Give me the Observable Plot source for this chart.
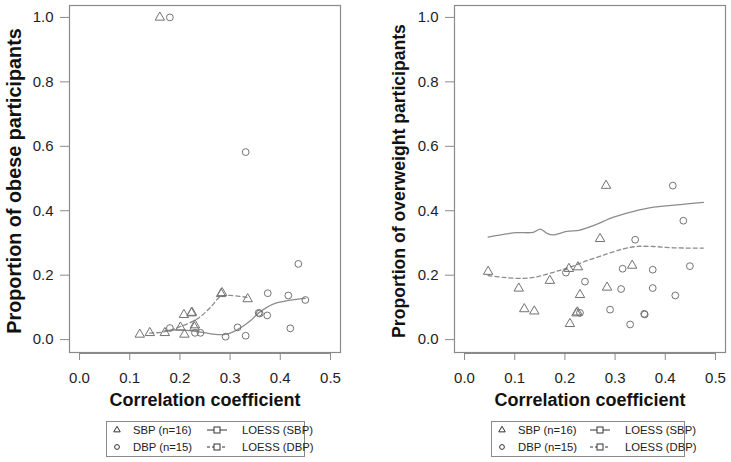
<!DOCTYPE html>
<html>
<head>
<meta charset="utf-8">
<script src="https://cdn.jsdelivr.net/npm/d3@7"></script>
<script src="https://cdn.jsdelivr.net/npm/@observablehq/plot@0.6"></script>
<style>
  body { margin: 0; background: #fff; font-family: "Liberation Sans", Arial, sans-serif; }
  #wrap { position: relative; width: 731px; height: 462px; overflow: hidden; }
  .panel { position: absolute; top: 0; }
  .legend { position: absolute; top: 421px; height: 36px; border: 1px solid #8a8a8a; box-sizing: border-box; font-size: 11.3px; color: #222; }
  .legend .item { position: absolute; white-space: nowrap; line-height: 12px; }
  .legend svg { position: absolute; overflow: visible; }
</style>
</head>
<body>
<div id="wrap">
  <div id="left" class="panel" style="left:0"></div>
  <div id="right" class="panel" style="left:385px"></div>
  <div id="legL" class="legend" style="left:106px; width:199px"></div>
  <div id="legR" class="legend" style="left:491px; width:194px"></div>
</div>
<script>
// ---------- data ----------
const xTicks = [0, 0.1, 0.2, 0.3, 0.4, 0.5];
const yTicks = [0, 0.2, 0.4, 0.6, 0.8, 1.0];
const xDomain = [-0.02, 0.52];
const yDomain = [-0.04, 1.037];

const xTitle = "Correlation coefficient";
const yTitleObese = "Proportion of obese participants";
const yTitleOver = "Proportion of overweight participants";
const legendLabels = ["SBP (n=16)", "DBP (n=15)", "LOESS (SBP)", "LOESS (DBP)"];

// Obese panel
const obeseSbpX = [0.16, 0.12, 0.14, 0.17, 0.201, 0.208, 0.223, 0.224, 0.209, 0.229, 0.23, 0.282, 0.284, 0.335];
const obeseSbpY = [1.0, 0.016, 0.021, 0.021, 0.038, 0.077, 0.082, 0.084, 0.016, 0.038, 0.045, 0.142, 0.145, 0.126];
const obeseDbpX = [0.18, 0.331, 0.18, 0.23, 0.241, 0.291, 0.315, 0.331, 0.357, 0.359, 0.375, 0.374, 0.416, 0.436, 0.42, 0.45];
const obeseDbpY = [1.0, 0.582, 0.036, 0.021, 0.021, 0.009, 0.038, 0.012, 0.083, 0.081, 0.144, 0.075, 0.137, 0.235, 0.035, 0.123];
const obeseSolidX = [0.17, 0.2, 0.231, 0.261, 0.291, 0.314, 0.341, 0.357, 0.387, 0.414, 0.45];
const obeseSolidY = [0.028, 0.03, 0.026, 0.018, 0.016, 0.03, 0.059, 0.083, 0.111, 0.121, 0.128];
const obeseDashX = [0.14, 0.168, 0.2, 0.234, 0.261, 0.281, 0.3, 0.335];
const obeseDashY = [0.02, 0.024, 0.04, 0.064, 0.1, 0.134, 0.137, 0.131];

// Overweight panel
const overSbpX = [0.282, 0.047, 0.108, 0.119, 0.139, 0.17, 0.21, 0.208, 0.226, 0.223, 0.225, 0.23, 0.27, 0.284, 0.334];
const overSbpY = [0.478, 0.211, 0.159, 0.095, 0.088, 0.183, 0.049, 0.22, 0.225, 0.082, 0.085, 0.139, 0.313, 0.162, 0.23];
const overDbpX = [0.415, 0.202, 0.24, 0.23, 0.29, 0.315, 0.312, 0.34, 0.33, 0.358, 0.359, 0.375, 0.375, 0.42, 0.436, 0.449];
const overDbpY = [0.478, 0.208, 0.18, 0.083, 0.093, 0.22, 0.157, 0.31, 0.047, 0.08, 0.078, 0.217, 0.16, 0.137, 0.369, 0.228];
const overSolidX = [0.047, 0.084, 0.104, 0.137, 0.151, 0.164, 0.177, 0.204, 0.23, 0.257, 0.297, 0.337, 0.377, 0.43, 0.476];
const overSolidY = [0.318, 0.328, 0.332, 0.333, 0.343, 0.33, 0.325, 0.336, 0.34, 0.354, 0.38, 0.398, 0.411, 0.419, 0.426];
const overDashX = [0.047, 0.078, 0.118, 0.144, 0.177, 0.21, 0.244, 0.284, 0.317, 0.343, 0.377, 0.416, 0.476];
const overDashY = [0.199, 0.193, 0.19, 0.195, 0.209, 0.225, 0.245, 0.266, 0.282, 0.289, 0.289, 0.285, 0.284];

// ---------- styles ----------
const FRAME = "#8a8a8a";
const PT = "#727272";
const LINE = "#8c8c8c";
const TXT = "#1e1e1e";
const FONT = "'Liberation Sans', Arial, sans-serif";

const pairs = (xs, ys) => xs.map((x, i) => ({x, y: ys[i]}));

function panel({width, marginRight, yTitle, yTitleSize, sbpX, sbpY, dbpX, dbpY, solidX, solidY, dashX, dashY}) {
  return Plot.plot({
    width,
    height: 416,
    marginLeft: 69,
    marginRight,
    marginTop: 5,
    marginBottom: 64,
    style: {fontFamily: FONT, fontSize: "15px", background: "white", overflow: "visible"},
    x: {domain: xDomain},
    y: {domain: yDomain},
    marks: [
      Plot.frame({stroke: FRAME, strokeWidth: 1.2}),
      Plot.ruleY([yDomain[0]], {x1: xTicks[0], x2: xTicks[xTicks.length - 1], stroke: FRAME, strokeWidth: 1.2, dy: 1}),
      Plot.axisX({ticks: xTicks, tickFormat: d3.format(".1f"), tickSize: 8, tickPadding: 12, stroke: FRAME, fill: TXT, fontSize: 15, label: null}),
      Plot.axisY({ticks: yTicks, tickFormat: d3.format(".1f"), tickSize: 9, tickPadding: 7, stroke: FRAME, fill: TXT, fontSize: 15, label: null}),
      Plot.line(pairs(solidX, solidY), {x: "x", y: "y", stroke: LINE, strokeWidth: 1.3, curve: "catmull-rom"}),
      Plot.line(pairs(dashX, dashY), {x: "x", y: "y", stroke: LINE, strokeWidth: 1.3, strokeDasharray: "4,3", curve: "catmull-rom"}),
      Plot.dot(pairs(sbpX, sbpY), {x: "x", y: "y", symbol: "triangle", r: 3.5, stroke: PT, fill: "none", strokeWidth: 1}),
      Plot.dot(pairs(dbpX, dbpY), {x: "x", y: "y", symbol: "circle", r: 3.4, stroke: PT, fill: "none", strokeWidth: 1}),
      Plot.text([xTitle], {frameAnchor: "bottom", textAnchor: "middle", dy: 48, lineAnchor: "middle", fontWeight: "bold", fontSize: 18, fill: "#111"}),
      Plot.text([yTitle], {frameAnchor: "left", textAnchor: "middle", dx: -55, dy: 2, rotate: -90, lineAnchor: "middle", fontWeight: "bold", fontSize: yTitleSize, fill: "#111"})
    ]
  });
}

document.getElementById("left").append(panel({
  width: 385, marginRight: 45, yTitle: yTitleObese, yTitleSize: 19.8,
  sbpX: obeseSbpX, sbpY: obeseSbpY, dbpX: obeseDbpX, dbpY: obeseDbpY,
  solidX: obeseSolidX, solidY: obeseSolidY, dashX: obeseDashX, dashY: obeseDashY
}));
document.getElementById("right").append(panel({
  width: 346, marginRight: 6, yTitle: yTitleOver, yTitleSize: 17.6,
  sbpX: overSbpX, sbpY: overSbpY, dbpX: overDbpX, dbpY: overDbpY,
  solidX: overSolidX, solidY: overSolidY, dashX: overDashX, dashY: overDashY
}));

// ---------- legends ----------
function buildLegend(el, lineX, lineTextX) {
  const rowY = [8, 25];
  const tri = d3.symbol(d3.symbolTriangle, 18)();
  el.innerHTML = `
    <svg style="left:10px; top:${rowY[0]}px" width="1" height="1"><path d="${tri}" fill="none" stroke="#333" stroke-width="1"/></svg>
    <svg style="left:10px; top:${rowY[1]}px" width="1" height="1"><circle r="2.4" fill="none" stroke="#333" stroke-width="1"/></svg>
    <div class="item" style="left:26px; top:${rowY[0] - 6}px">${legendLabels[0]}</div>
    <div class="item" style="left:26px; top:${rowY[1] - 6}px">${legendLabels[1]}</div>
    <svg style="left:${lineX}px; top:${rowY[0]}px" width="1" height="1"><line x1="0" x2="20" y1="0" y2="0" stroke="#333" stroke-width="1"/><rect x="7" y="-3" width="6" height="6" fill="white" stroke="#333" stroke-width="1"/></svg>
    <svg style="left:${lineX}px; top:${rowY[1]}px" width="1" height="1"><line x1="0" x2="20" y1="0" y2="0" stroke="#333" stroke-width="1" stroke-dasharray="3,2"/><rect x="7" y="-3" width="6" height="6" fill="white" stroke="#333" stroke-width="1"/></svg>
    <div class="item" style="left:${lineTextX}px; top:${rowY[0] - 6}px">${legendLabels[2]}</div>
    <div class="item" style="left:${lineTextX}px; top:${rowY[1] - 6}px">${legendLabels[3]}</div>
  `;
}
buildLegend(document.getElementById("legL"), 100, 135);
buildLegend(document.getElementById("legR"), 98, 133);
</script>
</body>
</html>
